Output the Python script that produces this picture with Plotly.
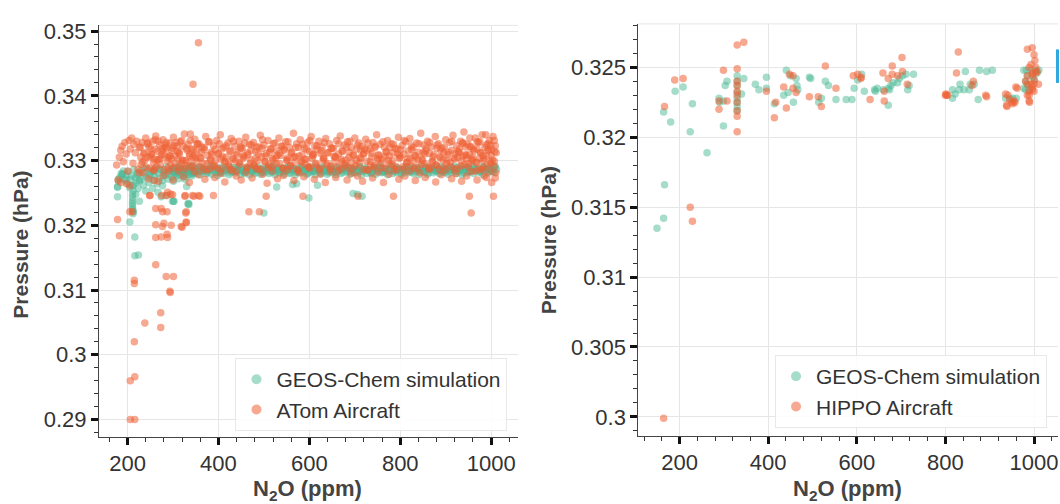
import plotly.graph_objects as go

# ---------------- LEFT PANEL: GEOS-Chem vs ATom ----------------
# ATom aircraft (orange) - dense band, read column by column
atom_b1_x = [232,240,247,255,262,271,278,286,293,301,309,316,325,333,340,348,357,364,372,380,
             389,396,404,412,421,428,436,445,452,460,468,477,484,492,500,509,516,524,533,540,
             548,556,565,572,580,589,596,604,612,621,628,636,644,653,660,668,677,684,692,700,
             709,716,724,733,740,748,756,765,772,780,789,796,804,812,821,828,836,845,852,860,
             868,877,884,892,900,909,916,924,933,940,948,956,965,972,980,989,996,1004]
atom_b1_y = [0.3328,0.3335,0.3321,0.3330,0.3338,0.3324,0.3332,0.3319,0.3327,0.3336,
             0.3322,0.3329,0.3341,0.3325,0.3318,0.3333,0.3326,0.3321,0.3337,0.3329,
             0.3323,0.3331,0.3340,0.3320,0.3327,0.3334,0.3322,0.3330,0.3319,0.3336,
             0.3325,0.3328,0.3321,0.3339,0.3324,0.3331,0.3318,0.3327,0.3335,0.3322,
             0.3329,0.3320,0.3342,0.3326,0.3332,0.3319,0.3328,0.3337,0.3323,0.3330,
             0.3321,0.3334,0.3326,0.3319,0.3331,0.3338,0.3324,0.3329,0.3320,0.3335,
             0.3327,0.3322,0.3333,0.3318,0.3328,0.3340,0.3325,0.3321,0.3331,0.3326,
             0.3319,0.3336,0.3323,0.3329,0.3334,0.3320,0.3327,0.3342,0.3324,0.3330,
             0.3321,0.3337,0.3326,0.3319,0.3332,0.3328,0.3339,0.3323,0.3330,0.3344,
             0.3325,0.3321,0.3335,0.3328,0.3340,0.3324,0.3331,0.3337]
atom_b2_x = [236,244,251,259,266,275,282,290,297,305,313,320,329,337,344,352,361,368,376,384,
             393,400,408,416,425,432,440,449,456,464,472,481,488,496,504,513,520,528,537,544,
             552,560,569,576,584,593,600,608,616,625,632,640,648,657,664,672,681,688,696,704,
             713,720,728,737,744,752,760,769,776,784,793,800,808,816,825,832,840,849,856,864,
             872,881,888,896,904,913,920,928,937,944,952,960,969,976,984,993,1000,1008]
atom_b2_y = [0.3311,0.3305,0.3318,0.3302,0.3314,0.3309,0.3320,0.3304,0.3316,0.3307,
             0.3312,0.3301,0.3319,0.3310,0.3306,0.3315,0.3303,0.3317,0.3308,0.3313,
             0.3300,0.3311,0.3318,0.3305,0.3314,0.3302,0.3309,0.3321,0.3306,0.3312,
             0.3316,0.3303,0.3310,0.3319,0.3307,0.3313,0.3301,0.3315,0.3308,0.3318,
             0.3304,0.3311,0.3306,0.3320,0.3309,0.3302,0.3314,0.3307,0.3317,0.3311,
             0.3303,0.3312,0.3319,0.3305,0.3310,0.3315,0.3301,0.3313,0.3308,0.3318,
             0.3304,0.3311,0.3316,0.3306,0.3320,0.3309,0.3302,0.3314,0.3307,0.3312,
             0.3318,0.3305,0.3310,0.3303,0.3317,0.3308,0.3313,0.3300,0.3315,0.3311,
             0.3306,0.3319,0.3304,0.3312,0.3309,0.3316,0.3302,0.3314,0.3307,0.3321,
             0.3310,0.3305,0.3318,0.3312,0.3303,0.3316,0.3308,0.3314]
atom_b3_x = [230,238,249,257,264,273,280,288,295,303,311,318,327,335,342,350,359,366,374,382,
             391,398,406,414,423,430,438,447,454,462,470,479,486,494,502,511,518,526,535,542,
             550,558,567,574,582,591,598,606,614,623,630,638,646,655,662,670,679,686,694,702,
             711,718,726,735,742,750,758,767,774,782,791,798,806,814,823,830,838,847,854,862,
             870,879,886,894,902,911,918,926,935,942,950,958,967,974,982,991,998,1006]
atom_b3_y = [0.3294,0.3301,0.3288,0.3297,0.3291,0.3303,0.3286,0.3299,0.3293,0.3289,
             0.3302,0.3295,0.3287,0.3298,0.3292,0.3304,0.3290,0.3296,0.3285,0.3300,
             0.3293,0.3288,0.3302,0.3297,0.3291,0.3286,0.3299,0.3294,0.3303,0.3289,
             0.3296,0.3292,0.3300,0.3287,0.3298,0.3293,0.3290,0.3304,0.3295,0.3288,
             0.3301,0.3292,0.3297,0.3286,0.3299,0.3294,0.3290,0.3303,0.3296,0.3288,
             0.3300,0.3293,0.3287,0.3298,0.3291,0.3302,0.3295,0.3289,0.3297,0.3292,
             0.3304,0.3286,0.3299,0.3293,0.3290,0.3301,0.3296,0.3288,0.3300,0.3294,
             0.3291,0.3303,0.3287,0.3297,0.3292,0.3299,0.3289,0.3302,0.3295,0.3290,
             0.3298,0.3293,0.3286,0.3301,0.3296,0.3291,0.3304,0.3288,0.3299,0.3294,
             0.3290,0.3302,0.3297,0.3287,0.3300,0.3293,0.3298,0.3291]
atom_b4_x = [234,246,258,268,279,291,300,314,323,336,347,356,370,381,392,405,414,426,439,450,
             461,474,483,497,507,519,530,543,552,566,577,588,601,611,624,635,647,658,670,683,
             692,706,717,729,739,751,763,775,786,797,810,820,833,843,855,866,878,890,899,913,
             922,935,946,957,969,979,990,1001,1010]
atom_b4_y = [0.3281,0.3272,0.3286,0.3268,0.3277,0.3284,0.3270,0.3289,0.3275,0.3266,
             0.3283,0.3278,0.3271,0.3287,0.3274,0.3280,0.3267,0.3285,0.3276,0.3270,
             0.3282,0.3273,0.3288,0.3279,0.3265,0.3284,0.3272,0.3277,0.3286,0.3269,
             0.3281,0.3275,0.3288,0.3271,0.3279,0.3266,0.3283,0.3274,0.3287,0.3270,
             0.3280,0.3276,0.3268,0.3285,0.3273,0.3282,0.3266,0.3279,0.3287,0.3271,
             0.3276,0.3284,0.3269,0.3281,0.3274,0.3288,0.3267,0.3278,0.3285,0.3272,
             0.3280,0.3268,0.3276,0.3283,0.3270,0.3286,0.3274,0.3266,0.3281]
atom_b5_x = [176,179,182,185,188,191,194,197,200,203,206,209,212,214,217,220,223,226,229,243,
             252,261,269,277,285,294,302,310,319,328,338,345,353,929,938,946,953,961,968,975,
             982,988,994,999,1003,1007,1011,997,985,1009]
atom_b5_y = [0.3293,0.3270,0.3305,0.3316,0.3322,0.3298,0.3328,0.3310,0.3284,0.3331,
             0.3318,0.3335,0.3296,0.3325,0.3312,0.3330,0.3287,0.3320,0.3305,0.3326,
             0.3310,0.3332,0.3302,0.3319,0.3328,0.3307,0.3323,0.3314,0.3331,0.3300,
             0.3341,0.3317,0.3326,0.3312,0.3327,0.3303,0.3335,0.3318,0.3297,0.3329,
             0.3308,0.3340,0.3316,0.3324,0.3301,0.3331,0.3312,0.3283,0.3276,0.3273]
atom_b6_x = [228,237,245,253,261,268,276,284,291,299,307,314,322,331,338,346,354,362,369,378,
             385,393,402,409,417,426,433,441,449,458,465,473,482,489,497,505,514,521,529,538,
             545,553,561,570,577,585,594,601,609,617,626,633,641,650,657,665,673,682,689,697,
             706,713,721,729,738,745,753,762,769,777,785,794,801,809,818,825,833,841,850,857,
             865,874,881,889,897,906,913,921,930,937,945,953,962,969,977,986,993,1001,1009]
atom_b6_y = [0.3321,0.3312,0.3327,0.3309,0.3318,0.3330,0.3314,0.3324,0.3307,0.3319,
             0.3328,0.3311,0.3322,0.3316,0.3331,0.3308,0.3325,0.3313,0.3320,0.3329,
             0.3310,0.3317,0.3326,0.3306,0.3323,0.3315,0.3330,0.3312,0.3319,0.3327,
             0.3309,0.3324,0.3314,0.3321,0.3332,0.3311,0.3318,0.3326,0.3308,0.3322,
             0.3316,0.3329,0.3313,0.3320,0.3307,0.3325,0.3317,0.3331,0.3310,0.3323,
             0.3315,0.3328,0.3312,0.3319,0.3306,0.3326,0.3314,0.3321,0.3330,0.3309,
             0.3324,0.3316,0.3318,0.3327,0.3311,0.3322,0.3308,0.3329,0.3313,0.3320,
             0.3325,0.3310,0.3317,0.3331,0.3315,0.3323,0.3307,0.3326,0.3312,0.3319,
             0.3328,0.3309,0.3324,0.3316,0.3321,0.3313,0.3330,0.3311,0.3318,0.3327,
             0.3308,0.3322,0.3315,0.3329,0.3312,0.3320,0.3326,0.3317,0.3323]
atom_b7_x = [233,241,250,258,265,272,281,289,296,304,312,321,328,336,343,351,360,367,375,383,
             390,399,407,415,422,431,439,446,455,463,471,478,487,495,503,510,519,527,534,543,
             551,559,566,575,583,590,599,607,615,622,631,639,647,654,663,671,678,687,695,703,
             710,719,727,734,743,751,759,766,775,783,791,798,807,815,822,831,839,847,854,863,
             871,879,887,895,903,910,919,927,934,943,951,958,966,975,983,990,999,1007]
atom_b7_y = [0.3298,0.3290,0.3306,0.3285,0.3301,0.3294,0.3309,0.3288,0.3303,0.3296,
             0.3284,0.3300,0.3292,0.3307,0.3289,0.3298,0.3305,0.3286,0.3295,0.3302,
             0.3291,0.3310,0.3287,0.3299,0.3294,0.3304,0.3283,0.3297,0.3308,0.3290,
             0.3301,0.3293,0.3286,0.3306,0.3298,0.3289,0.3303,0.3295,0.3311,0.3288,
             0.3300,0.3292,0.3305,0.3285,0.3297,0.3302,0.3290,0.3309,0.3294,0.3287,
             0.3304,0.3296,0.3291,0.3307,0.3284,0.3299,0.3293,0.3305,0.3288,0.3301,
             0.3296,0.3310,0.3286,0.3298,0.3292,0.3303,0.3289,0.3306,0.3295,0.3300,
             0.3285,0.3308,0.3291,0.3297,0.3304,0.3288,0.3302,0.3294,0.3310,0.3286,
             0.3299,0.3293,0.3306,0.3290,0.3301,0.3297,0.3287,0.3305,0.3292,0.3309,
             0.3295,0.3300,0.3284,0.3303,0.3289,0.3307,0.3296,0.3299]
# ATom scattered / outlying points
atom_out_x = [356,344,205,211,178,182,262,285,301,215,215,293,294,273,238,273,215,216,206,206,216,
              262,274,277,287,329,262,277,280,296,318,329,262,274,287,288,467,490,
              249,275,286,299,327,343,356,389,505,586,707,785,952,956,1005,346,326,359,328,329,320,
              205,249,288,295,259,226,198,185]
atom_out_y = [0.3482,0.3418,0.3221,0.3221,0.3209,0.3184,0.3139,0.3121,0.3121,0.3115,0.3110,0.3098,0.3096,
              0.3065,0.3049,0.3042,0.3020,0.2966,0.2960,0.2900,0.2900,
              0.3226,0.3226,0.3221,0.3221,0.3221,0.3201,0.3198,0.3203,0.3200,0.3198,0.3205,
              0.3181,0.3182,0.3186,0.3181,0.3221,0.3221,
              0.3246,0.3246,0.3246,0.3247,0.3246,0.3246,0.3246,0.3246,0.3245,0.3245,0.3245,0.3245,
              0.3245,0.3219,0.3245,0.3245,0.3245,0.3245,0.3219,0.3204,0.3197,
              0.3261,0.3246,0.3251,0.3248,0.3269,0.3281,0.3264,0.3266]

# GEOS-Chem simulation along ATom (green)
geos_a1_x = [300,306,313,319,325,331,338,344,350,357,363,369,376,382,388,395,401,407,414,420,
             426,433,439,445,452,458,464,471,477,483,490,496,502,509,515,521,528,534,540,547,
             553,559,566,572,578,585,591,597,604,610,616,623,629,635,642,648,654,661,667,673,
             680,686,692,699,705,711,718,724,730,737,743,749,756,762,768,775,781,787,794,800,
             806,813,819,825,832,838,844,851,857,863,870,876,882,889,895,901,908,914,920,927,
             933,939,946,952,958,965,971,977,984,990,996,1003,1009]
geos_a1_y = [0.3286,0.3281,0.3290,0.3284,0.3288,0.3282,0.3291,0.3285,0.3280,0.3289,
             0.3283,0.3287,0.3281,0.3292,0.3285,0.3288,0.3282,0.3290,0.3284,0.3286,
             0.3281,0.3289,0.3283,0.3291,0.3285,0.3280,0.3288,0.3284,0.3290,0.3282,
             0.3287,0.3285,0.3281,0.3289,0.3283,0.3292,0.3286,0.3282,0.3288,0.3284,
             0.3290,0.3281,0.3287,0.3285,0.3289,0.3283,0.3286,0.3280,0.3291,0.3284,
             0.3288,0.3282,0.3290,0.3285,0.3281,0.3287,0.3283,0.3289,0.3286,0.3282,
             0.3291,0.3284,0.3288,0.3281,0.3286,0.3290,0.3283,0.3287,0.3285,0.3280,
             0.3289,0.3284,0.3292,0.3282,0.3287,0.3285,0.3290,0.3283,0.3288,0.3281,
             0.3286,0.3291,0.3284,0.3282,0.3289,0.3285,0.3287,0.3283,0.3290,0.3281,
             0.3288,0.3286,0.3284,0.3291,0.3282,0.3287,0.3285,0.3289,0.3283,0.3290,
             0.3286,0.3281,0.3288,0.3284,0.3292,0.3285,0.3287,0.3283,0.3290,0.3286,
             0.3288,0.3284,0.3291]
geos_a2_x = [303,310,316,322,328,335,341,347,354,360,366,373,379,385,392,398,404,411,417,423,
             430,436,442,449,455,461,468,474,480,487,493,499,506,512,518,525,531,537,544,550,
             556,563,569,575,582,588,594,601,607,613,620,626,632,639,645,651,658,664,670,677,
             683,689,696,702,708,715,721,727,734,740,746,753,759,765,772,778,784,791,797,803,
             810,816,822,829,835,841,848,854,860,867,873,879,886,892,898,905,911,917,924,930,
             936,943,949,955,962,968,974,981,987,993,1000,1006,1012]
geos_a2_y = [0.3279,0.3285,0.3278,0.3283,0.3280,0.3286,0.3279,0.3282,0.3287,0.3278,
             0.3284,0.3280,0.3285,0.3279,0.3282,0.3277,0.3284,0.3280,0.3286,0.3278,
             0.3283,0.3281,0.3287,0.3279,0.3282,0.3285,0.3278,0.3284,0.3280,0.3286,
             0.3279,0.3283,0.3288,0.3280,0.3282,0.3278,0.3285,0.3281,0.3279,0.3284,
             0.3280,0.3286,0.3278,0.3283,0.3281,0.3287,0.3279,0.3282,0.3284,0.3278,
             0.3285,0.3280,0.3283,0.3279,0.3286,0.3281,0.3278,0.3284,0.3280,0.3287,
             0.3282,0.3279,0.3285,0.3281,0.3283,0.3278,0.3286,0.3280,0.3282,0.3284,
             0.3279,0.3287,0.3281,0.3283,0.3278,0.3285,0.3280,0.3282,0.3286,0.3279,
             0.3284,0.3281,0.3288,0.3280,0.3283,0.3278,0.3285,0.3282,0.3279,0.3286,
             0.3281,0.3284,0.3280,0.3283,0.3287,0.3279,0.3282,0.3285,0.3280,0.3284,
             0.3278,0.3286,0.3281,0.3283,0.3280,0.3285,0.3282,0.3279,0.3287,0.3281,
             0.3284,0.3282,0.3286]
geos_a3_x = [222,226,229,232,235,238,241,244,247,250,253,256,259,262,265,268,271,274,277,280,
             283,286,289,292,295,298,301,305,309,313,317,321,325,329,333,337,341,345,236,248,
             258,270,284,297,312,327,342]
geos_a3_y = [0.3278,0.3268,0.3284,0.3272,0.3262,0.3281,0.3275,0.3287,0.3266,0.3279,
             0.3283,0.3270,0.3276,0.3288,0.3264,0.3280,0.3273,0.3285,0.3269,0.3282,
             0.3277,0.3290,0.3271,0.3279,0.3284,0.3274,0.3268,0.3281,0.3277,0.3272,
             0.3286,0.3279,0.3275,0.3283,0.3278,0.3289,0.3276,0.3282,0.3289,0.3277,
             0.3283,0.3287,0.3279,0.3286,0.3284,0.3271,0.3280]
geos_a4_x = [178,178,180,183,186,188,191,194,197,200,202,205,205,207,209,211,211,211,211,211,211,211,
             212,213,214,216,216,224,217,219,221,223,226,274,301,333,335,302,240,255,267,330,
             528,563,618,599,696,500,572,706,716,212,213,
             189,180,196,178,211,218,226,277,285,299,334]
geos_a4_y = [0.3259,0.3244,0.3268,0.3274,0.3280,0.3279,0.3284,0.3270,0.3277,0.3265,0.3283,0.3205,
             0.3258,0.3271,0.3276,0.3248,0.3243,0.3238,0.3234,0.3230,0.3226,0.3223,
             0.3253,0.3262,0.3286,0.3182,0.3153,0.3154,0.3274,0.3266,0.3280,0.3257,0.3270,
             0.3244,0.3237,0.3233,0.3232,0.3237,0.3253,0.3257,0.3251,0.3260,
             0.3259,0.3263,0.3262,0.3242,0.3249,0.3219,0.3264,0.3248,0.3245,0.3218,0.3221,
             0.3279,0.3271,0.3271,0.3259,0.3261,0.3248,0.3237,0.3261,0.3246,0.3237,0.3234]
geos_a5_x = [298,304,311,317,324,330,336,343,349,355,362,368,374,381,387,393,400,406,412,419,
             425,431,438,444,450,457,463,469,476,482,488,495,501,507,514,520,526,533,539,545,
             552,558,564,571,577,583,590,596,602,609,615,621,628,634,640,647,653,659,666,672,
             678,685,691,697,704,710,716,723,729,735,742,748,754,761,767,773,780,786,792,799,
             805,811,818,824,830,837,843,849,856,862,868,875,881,887,894,900,906,913,919,925,
             932,938,944,951,957,963,970,976,982,989,995,1001,1008]
geos_a5_y = [0.3288,0.3284,0.3291,0.3286,0.3283,0.3289,0.3285,0.3292,0.3287,0.3283,
             0.3290,0.3286,0.3284,0.3288,0.3291,0.3285,0.3287,0.3282,0.3289,0.3286,
             0.3290,0.3284,0.3288,0.3285,0.3291,0.3283,0.3287,0.3289,0.3284,0.3286,
             0.3290,0.3282,0.3288,0.3285,0.3291,0.3287,0.3283,0.3289,0.3286,0.3284,
             0.3290,0.3285,0.3288,0.3282,0.3287,0.3291,0.3284,0.3289,0.3286,0.3283,
             0.3290,0.3285,0.3288,0.3287,0.3284,0.3291,0.3286,0.3282,0.3289,0.3285,
             0.3288,0.3290,0.3283,0.3287,0.3286,0.3291,0.3284,0.3289,0.3285,0.3282,
             0.3288,0.3286,0.3290,0.3283,0.3287,0.3284,0.3291,0.3285,0.3289,0.3286,
             0.3282,0.3288,0.3290,0.3284,0.3287,0.3285,0.3291,0.3283,0.3289,0.3286,
             0.3288,0.3284,0.3290,0.3285,0.3287,0.3282,0.3289,0.3286,0.3291,0.3284,
             0.3288,0.3285,0.3290,0.3283,0.3287,0.3289,0.3286,0.3284,0.3291,0.3285,
             0.3288,0.3287,0.3290]

# ---------------- RIGHT PANEL: GEOS-Chem vs HIPPO ----------------
hippo_x = [330,345,299,330,189,208,166,289,289,307,
           330,330,330,330,330,330,330,330,
           396,414,417,435,441,448,456,456,463,493,513,520,529,553,
           592,602,609,630,659,662,671,680,680,692,702,703,714,
           829,825,801,805,860,863,891,
           936,938,945,950,955,959,985,996,1000,1002,993,1004,1007,989,985,996,1000,981,
           993,1010,989,996,1000,985,989,997,1004,985,989,990,996,1000,939,941,952,957,962,
           662,610,224,229,164,893,800,803]
hippo_y = [0.3266,0.3268,0.3248,0.3249,0.3241,0.3242,0.3222,0.3226,0.3220,0.3226,
           0.3240,0.3237,0.3233,0.3230,0.3225,0.3219,0.3215,0.3204,
           0.3233,0.3214,0.3225,0.3236,0.3221,0.3245,0.3244,0.3235,0.3232,0.3229,0.3229,0.3222,0.3251,0.3235,
           0.3244,0.3245,0.3242,0.3227,0.3246,0.3226,0.3242,0.3251,0.3245,0.3244,0.3257,0.3247,0.3238,
           0.3261,0.3246,0.3231,0.3230,0.3237,0.3240,0.3230,
           0.3231,0.3223,0.3227,0.3225,0.3226,0.3236,0.3263,0.3264,0.3259,0.3255,0.3252,0.3250,0.3247,
           0.3250,0.3244,0.3245,0.3241,0.3240,
           0.3238,0.3238,0.3233,0.3234,0.3233,0.3230,0.3226,0.3246,0.3246,0.3238,0.3230,0.3225,0.3236,
           0.3238,0.3222,0.3230,0.3224,0.3225,0.3235,
           0.3233,0.3243,0.3150,0.3140,0.2999,0.3229,0.3230,0.3230]
geos_h_x = [164,180,190,208,224,229,262,289,290,299,299,307,
            330,330,330,330,330,330,330,330,340,345,371,379,396,396,414,435,441,445,450,463,465,467,457,
            493,514,520,529,536,553,576,
            589,594,602,611,617,640,646,642,660,671,674,677,682,692,696,703,711,715,718,728,671,
            816,816,822,833,831,842,845,854,856,865,874,877,906,893,
            936,945,952,960,977,983,993,1004,1011,981,985,985,989,981,977,1007,997,1001,
            166,164,149,303,496]
geos_h_y = [0.3218,0.3211,0.3233,0.3236,0.3204,0.3224,0.3189,0.3228,0.3225,0.3208,0.3226,0.3240,
            0.3244,0.3240,0.3237,0.3232,0.3228,0.3225,0.3222,0.3219,0.3231,0.3242,0.3238,0.3234,
            0.3243,0.3235,0.3224,0.3230,0.3248,0.3232,0.3244,0.3242,0.3237,0.3234,0.3225,
            0.3243,0.3225,0.3228,0.3240,0.3237,0.3227,0.3227,
            0.3227,0.3235,0.3241,0.3245,0.3233,0.3234,0.3235,0.3233,0.3234,0.3235,0.3234,0.3237,
            0.3239,0.3239,0.3242,0.3244,0.3245,0.3234,0.3237,0.3245,0.3223,
            0.3234,0.3228,0.3231,0.3238,0.3234,0.3234,0.3247,0.3234,0.3238,0.3238,0.3227,0.3248,
            0.3248,0.3247,
            0.3228,0.3228,0.3228,0.3228,0.3248,0.3248,0.3248,0.3248,0.3248,0.3240,0.3244,0.3238,
            0.3234,0.3234,0.3235,0.3246,0.3243,0.3241,
            0.3166,0.3142,0.3135,0.3237,0.3242]

# axis ticks / labels
x_ticks = [200, 400, 600, 800, 1000]
x_ticklabels = ["200", "400", "600", "800", "1000"]
left_y_ticks = [0.29, 0.30, 0.31, 0.32, 0.33, 0.34, 0.35]
left_y_ticklabels = ["0.29", "0.3", "0.31", "0.32", "0.33", "0.34", "0.35"]
right_y_ticks = [0.300, 0.305, 0.310, 0.315, 0.320, 0.325]
right_y_ticklabels = ["0.3", "0.305", "0.31", "0.315", "0.32", "0.325"]


def merge(*pairs):
    xs, ys = [], []
    for px, py in pairs:
        n = min(len(px), len(py))
        xs += list(px[:n])
        ys += list(py[:n])
    return xs, ys


GREEN = "rgba(76,186,150,0.5)"
ORANGE = "rgba(238,96,52,0.55)"
FONT = "Liberation Sans, Arial, sans-serif"

gx, gy = merge((geos_a3_x, geos_a3_y), (geos_a4_x, geos_a4_y), (geos_a1_x, geos_a1_y),
               (geos_a2_x, geos_a2_y), (geos_a5_x, geos_a5_y))
ax, ay = merge((atom_b1_x, atom_b1_y), (atom_b6_x, atom_b6_y), (atom_b2_x, atom_b2_y),
               (atom_b7_x, atom_b7_y), (atom_b3_x, atom_b3_y),
               (atom_b4_x, atom_b4_y), (atom_b5_x, atom_b5_y), (atom_out_x, atom_out_y))
hx, hy = merge((hippo_x, hippo_y))
ghx, ghy = merge((geos_h_x, geos_h_y))

fig = go.Figure()
mk = dict(size=7.5, line=dict(width=0))
fig.add_trace(go.Scatter(x=gx, y=gy, mode="markers", name="GEOS-Chem simulation", showlegend=False,
                         marker=dict(color=GREEN, **mk), xaxis="x", yaxis="y"))
fig.add_trace(go.Scatter(x=ax, y=ay, mode="markers", name="ATom Aircraft", showlegend=False,
                         marker=dict(color=ORANGE, **mk), xaxis="x", yaxis="y"))
fig.add_trace(go.Scatter(x=ghx, y=ghy, mode="markers", name="GEOS-Chem simulation", showlegend=False,
                         marker=dict(color=GREEN, **mk), xaxis="x2", yaxis="y2"))
fig.add_trace(go.Scatter(x=hx, y=hy, mode="markers", name="HIPPO Aircraft", showlegend=False,
                         marker=dict(color=ORANGE, **mk), xaxis="x2", yaxis="y2"))
# legend entries (larger symbols, as in the reference legends)
lmk = dict(size=10, line=dict(width=0))
for name, col, xa, ya, lg in (("GEOS-Chem simulation", GREEN, "x", "y", "legend"),
                              ("ATom Aircraft", ORANGE, "x", "y", "legend"),
                              ("GEOS-Chem simulation", GREEN, "x2", "y2", "legend2"),
                              ("HIPPO Aircraft", ORANGE, "x2", "y2", "legend2")):
    fig.add_trace(go.Scatter(x=[None], y=[None], mode="markers", name=name, legend=lg,
                             marker=dict(color=col, **lmk), xaxis=xa, yaxis=ya, hoverinfo="skip"))

axis_common = dict(showline=True, linecolor="#444", linewidth=1, ticks="outside", ticklen=7,
                   tickwidth=3, tickcolor="#111", showgrid=True, gridcolor="#e6e6e6", gridwidth=1,
                   zeroline=False, tickfont=dict(family=FONT, size=22, color="#333"),
                   tickmode="array")
minor_common = dict(ticks="outside", ticklen=4, tickwidth=1, tickcolor="#333", tick0=0, showgrid=False)

fig.update_layout(
    width=1060, height=504, margin=dict(l=0, r=0, t=0, b=0),
    paper_bgcolor="white", plot_bgcolor="white",
    font=dict(family=FONT, color="#333"),
    xaxis=dict(domain=[0.0934, 0.4887], range=[137, 1058], anchor="y",
               tickvals=x_ticks, ticktext=x_ticklabels, minor=dict(dtick=40, **minor_common),
               **axis_common),
    yaxis=dict(domain=[0.135, 0.963], range=[0.28731, 0.35088], anchor="x",
               tickvals=left_y_ticks, ticktext=left_y_ticklabels, minor=dict(dtick=0.002, **minor_common),
               **axis_common),
    xaxis2=dict(domain=[0.6028, 0.999], range=[107, 1054], anchor="y2",
                tickvals=x_ticks, ticktext=x_ticklabels, minor=dict(dtick=40, **minor_common),
                **axis_common),
    yaxis2=dict(domain=[0.137, 0.966], range=[0.29864, 0.32811], anchor="x2",
                tickvals=right_y_ticks, ticktext=right_y_ticklabels, minor=dict(dtick=0.001, **minor_common),
                **axis_common),
    legend=dict(x=0.4792, y=0.1468, xanchor="right", yanchor="bottom",
                bgcolor="rgba(255,255,255,0.85)", bordercolor="#e8e8e8", borderwidth=1,
                font=dict(family=FONT, size=21, color="#333")),
    legend2=dict(x=0.9887, y=0.1528, xanchor="right", yanchor="bottom",
                 bgcolor="rgba(255,255,255,0.85)", bordercolor="#e8e8e8", borderwidth=1,
                 font=dict(family=FONT, size=21, color="#333")),
    showlegend=True,
)

title_font = dict(family=FONT, size=21, color="#444", weight="bold")
fig.add_annotation(text="Pressure (hPa)", x=21/1060, y=1-241/504, xref="paper", yref="paper",
                   textangle=-90, showarrow=False, font=title_font, xanchor="center", yanchor="middle")
fig.add_annotation(text="Pressure (hPa)", x=549/1060, y=1-236/504, xref="paper", yref="paper",
                   textangle=-90, showarrow=False, font=title_font, xanchor="center", yanchor="middle")
fig.add_annotation(text="N<sub>2</sub>O (ppm)", x=308/1060, y=1-490/504, xref="paper", yref="paper",
                   showarrow=False, font=dict(family=FONT, size=22, color="#444", weight="bold"),
                   xanchor="center", yanchor="middle")
fig.add_annotation(text="N<sub>2</sub>O (ppm)", x=848/1060, y=1-490/504, xref="paper", yref="paper",
                   showarrow=False, font=dict(family=FONT, size=22, color="#444", weight="bold"),
                   xanchor="center", yanchor="middle")

# light top border of each panel
for xr, yr in (("x domain", "y domain"), ("x2 domain", "y2 domain")):
    fig.add_shape(type="line", xref=xr, yref=yr, x0=0, x1=1, y0=1, y1=1,
                  line=dict(color="#e6e6e6", width=1), layer="below")
# blue marker at right edge
fig.add_shape(type="rect", xref="paper", yref="paper", x0=1057/1060, x1=1.0,
              y0=1-77/504, y1=1-43/504, line=dict(width=0), fillcolor="#2fa8e0")

fig.write_html("out.html")
